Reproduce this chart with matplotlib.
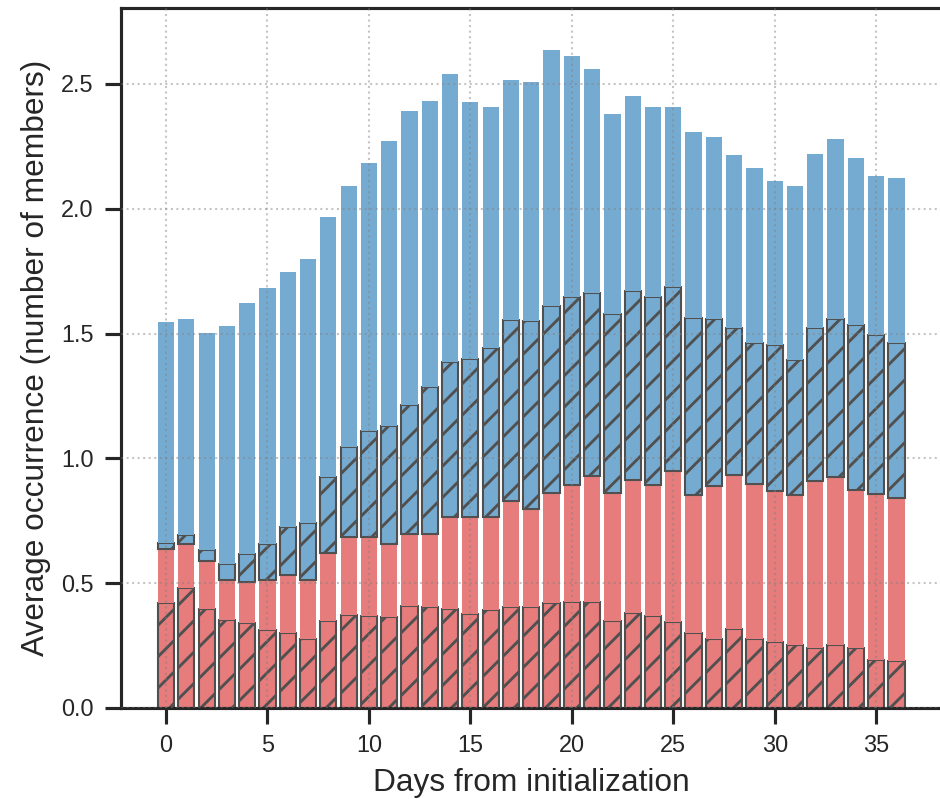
import matplotlib
matplotlib.use("Agg")
import matplotlib.pyplot as plt
import numpy as np


# days from initialization
days = np.arange(0, 37)

# stacked levels (cumulative tops of each segment)
red_hatch_top = [0.419, 0.479, 0.395, 0.354, 0.339, 0.311, 0.299, 0.275,
                 0.349, 0.373, 0.370, 0.363, 0.410, 0.403, 0.397, 0.375,
                 0.391, 0.406, 0.406, 0.419, 0.425, 0.425, 0.349, 0.379,
                 0.369, 0.343, 0.299, 0.275, 0.315, 0.275, 0.263, 0.251,
                 0.242, 0.251, 0.239, 0.194, 0.188]
red_top = [0.636, 0.655, 0.588, 0.513, 0.506, 0.513, 0.533, 0.514,
           0.622, 0.684, 0.684, 0.655, 0.698, 0.695, 0.767, 0.764,
           0.764, 0.829, 0.796, 0.863, 0.895, 0.929, 0.863, 0.913,
           0.895, 0.951, 0.852, 0.891, 0.932, 0.899, 0.868, 0.852,
           0.908, 0.924, 0.872, 0.856, 0.843]
blue_hatch_top = [0.662, 0.692, 0.632, 0.576, 0.616, 0.656, 0.726, 0.741,
                  0.924, 1.044, 1.108, 1.128, 1.214, 1.287, 1.385, 1.397,
                  1.441, 1.553, 1.549, 1.609, 1.645, 1.663, 1.577, 1.669,
                  1.647, 1.687, 1.561, 1.558, 1.521, 1.461, 1.453, 1.393,
                  1.521, 1.558, 1.533, 1.494, 1.464]
total_top = [1.545, 1.560, 1.502, 1.530, 1.623, 1.683, 1.747, 1.799,
             1.967, 2.091, 2.183, 2.272, 2.392, 2.432, 2.540, 2.428,
             2.408, 2.516, 2.508, 2.636, 2.612, 2.560, 2.380, 2.452,
             2.408, 2.408, 2.308, 2.288, 2.216, 2.163, 2.111, 2.091,
             2.220, 2.280, 2.203, 2.131, 2.123]

xticks = [0, 5, 10, 15, 20, 25, 30, 35]
yticks = [0.0, 0.5, 1.0, 1.5, 2.0, 2.5]


def main():
    """main function"""
    dark = "#262626"
    plt.rcParams["font.family"] = ["Liberation Sans", "DejaVu Sans"]
    plt.rcParams["hatch.linewidth"] = 1.1
    plt.rcParams["text.color"] = dark
    plt.rcParams["axes.labelcolor"] = dark
    plt.rcParams["xtick.color"] = dark
    plt.rcParams["ytick.color"] = dark

    red = "#e67c7c"
    blue = "#76abd1"
    edge = "#505050"

    r1 = np.array(red_hatch_top)
    r2 = np.array(red_top)
    b1 = np.array(blue_hatch_top)
    b2 = np.array(total_top)

    fig = plt.figure(figsize=(5.0, 4.25), dpi=188)
    ax = fig.add_axes([121 / 940, 91 / 799, 820.5 / 940, 700 / 799])

    ax.bar(days, r1, width=0.8, color=red, edgecolor=edge,
           linewidth=0.8, hatch="//")
    ax.bar(days, r2 - r1, bottom=r1, width=0.8, color=red, linewidth=0)
    ax.bar(days, b1 - r2, bottom=r2, width=0.8, color=blue, edgecolor=edge,
           linewidth=0.8, hatch="//")
    ax.bar(days, b2 - b1, bottom=b1, width=0.8, color=blue, linewidth=0)

    ax.set_xlim(-2.22, 38.22)
    ax.set_ylim(0, 2.804)
    ax.set_xticks(xticks)
    ax.set_yticks(yticks)
    ax.set_yticklabels([f"{v:.1f}" for v in yticks])
    ax.tick_params(labelsize=9.0, length=6, width=1.2, pad=4.5)
    ax.grid(True, linestyle=":", color="gray", alpha=0.45, linewidth=0.8)
    ax.set_axisbelow(False)

    for side in ["left", "bottom", "top"]:
        ax.spines[side].set_linewidth(1.2)
        ax.spines[side].set_color(dark)
    ax.spines["right"].set_visible(False)

    ax.set_xlabel("Days from initialization", fontsize=12.1)
    ax.set_ylabel("Average occurrence (number of members)", fontsize=12.1)

    fig.savefig("out.png", dpi=188)


if __name__ == "__main__":
    main()
